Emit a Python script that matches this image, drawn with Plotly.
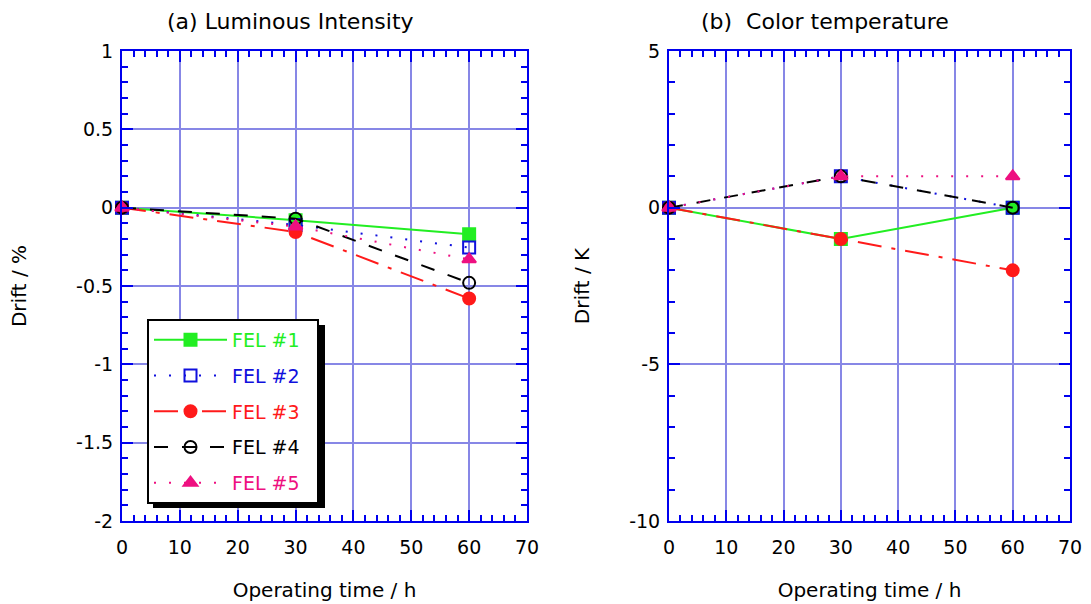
import plotly.graph_objects as go

W, H = 1091, 604
time_h = [0, 30, 60]
names = ["FEL #1", "FEL #2", "FEL #3", "FEL #4", "FEL #5"]
colors = ["#22ee22", "#1010dd", "#ff1a1a", "#000000", "#ee1080"]
symbols = ["square", "square-open", "circle", "circle-open", "triangle-up"]
dashes = ["solid", "2px,13px", "24px,10px,4px,10px", "14px,14px", "2px,13px"]

lum_drift = [
    [0, -0.08, -0.17],
    [0, -0.11, -0.255],
    [0, -0.155, -0.58],
    [0, -0.07, -0.48],
    [0, -0.12, -0.33],
]
ct_drift = [
    [0, -1.0, 0],
    [0, 1.0, 0],
    [0, -1.0, -2.0],
    [0, 1.0, 0],
    [0, 1.0, 1.0],
]

x_ticks = [0, 10, 20, 30, 40, 50, 60, 70]
lum_ticks = [-2, -1.5, -1, -0.5, 0, 0.5, 1]
lum_ticktext = ["-2", "-1.5", "-1", "-0.5", "0", "0.5", "1"]
ct_ticks = [-10, -5, 0, 5]
ct_ticktext = ["-10", "-5", "0", "5"]

FONT = "DejaVu Sans"
# plot-area pixel box (whole figure)
L, R, T, B = 122, 1070, 51, 521
PW, PH = R - L, B - T

def px_x(p):
    return (p - L) / PW

def px_y(p):
    return (B - p) / PH

fig = go.Figure()
for i in range(5):
    fig.add_trace(go.Scatter(
        x=time_h, y=lum_drift[i], xaxis="x", yaxis="y",
        mode="lines+markers", cliponaxis=False,
        name='<span style="color:%s">%s</span>\u00a0\u00a0' % (colors[i], names[i]),
        legendgroup="g%d" % i,
        line=dict(color=colors[i], width=2, dash=dashes[i]),
        marker=dict(symbol=symbols[i], size=12, color=colors[i],
                    line=dict(color=colors[i], width=2)),
    ))
for i in range(5):
    fig.add_trace(go.Scatter(
        x=time_h, y=ct_drift[i], xaxis="x2", yaxis="y2",
        mode="lines+markers", cliponaxis=False, showlegend=False,
        line=dict(color=colors[i], width=2, dash=dashes[i]),
        marker=dict(symbol=symbols[i], size=12, color=colors[i],
                    line=dict(color=colors[i], width=2)),
    ))

gridc = "rgb(135,135,230)"
axc = "#0000ee"

def xaxis(domain, anchor):
    return dict(domain=domain, anchor=anchor, range=[0, 70], tickvals=x_ticks,
                ticktext=[str(v) for v in x_ticks],
                showgrid=True, gridcolor=gridc, gridwidth=2, zeroline=False,
                showline=True, linecolor=axc, linewidth=2, mirror="ticks",
                ticks="inside", ticklen=11, tickwidth=2, tickcolor=axc,
                minor=dict(dtick=2, ticks="inside", ticklen=6, tickwidth=2, tickcolor=axc, showgrid=False),
                ticklabelstandoff=8, automargin=False,
                tickfont=dict(family=FONT, size=19, color="black"),
                title=dict(text="Operating time / h", font=dict(family=FONT, size=20, color="black"), standoff=26))

def yaxis(domain, anchor, rng, tv, tt, mdtick, title, standoff):
    return dict(domain=domain, anchor=anchor, range=rng, tickvals=tv, ticktext=tt,
                showgrid=True, gridcolor=gridc, gridwidth=2, zeroline=False,
                showline=True, linecolor=axc, linewidth=2, mirror="ticks",
                ticks="inside", ticklen=11, tickwidth=2, tickcolor=axc,
                minor=dict(dtick=mdtick, ticks="inside", ticklen=6, tickwidth=2, tickcolor=axc, showgrid=False),
                ticklabelstandoff=3, automargin=False,
                tickfont=dict(family=FONT, size=19, color="black"),
                title=dict(text=title, font=dict(family=FONT, size=20, color="black"), standoff=standoff))

fig.update_layout(
    width=W, height=H,
    margin=dict(l=L, r=W - R, t=T, b=H - B, autoexpand=False),
    paper_bgcolor="white", plot_bgcolor="white",
    font=dict(family=FONT, size=19, color="black"),
    xaxis=xaxis([0, px_x(527)], "y"),
    yaxis=yaxis([0, 1], "x", [-2, 1], lum_ticks, lum_ticktext, 0.1, "Drift / %", 44),
    xaxis2=xaxis([px_x(669), 1], "y2"),
    yaxis2=yaxis([0, 1], "x2", [-10, 5], ct_ticks, ct_ticktext, 1, "Drift / K", 34),
    legend=dict(x=px_x(147), y=px_y(319), xanchor="left", yanchor="top",
                bgcolor="white", bordercolor="black", borderwidth=2,
                itemwidth=73, tracegroupgap=8,
                font=dict(family=FONT, size=19)),
    showlegend=True,
    annotations=[
        dict(text="(a) Luminous Intensity", x=px_x(290), y=px_y(21), xref="paper", yref="paper",
             xanchor="center", yanchor="middle",
             showarrow=False, font=dict(family=FONT, size=22, color="black")),
        dict(text="(b)  Color temperature", x=px_x(825), y=px_y(21), xref="paper", yref="paper",
             xanchor="center", yanchor="middle",
             showarrow=False, font=dict(family=FONT, size=22, color="black")),
    ],
    shapes=[
        dict(type="rect", xref="paper", yref="paper",
             x0=px_x(153), x1=px_x(325), y0=px_y(508), y1=px_y(325),
             fillcolor="black", line=dict(width=0), layer="above"),
    ],
)

fig.write_html("out.html")
